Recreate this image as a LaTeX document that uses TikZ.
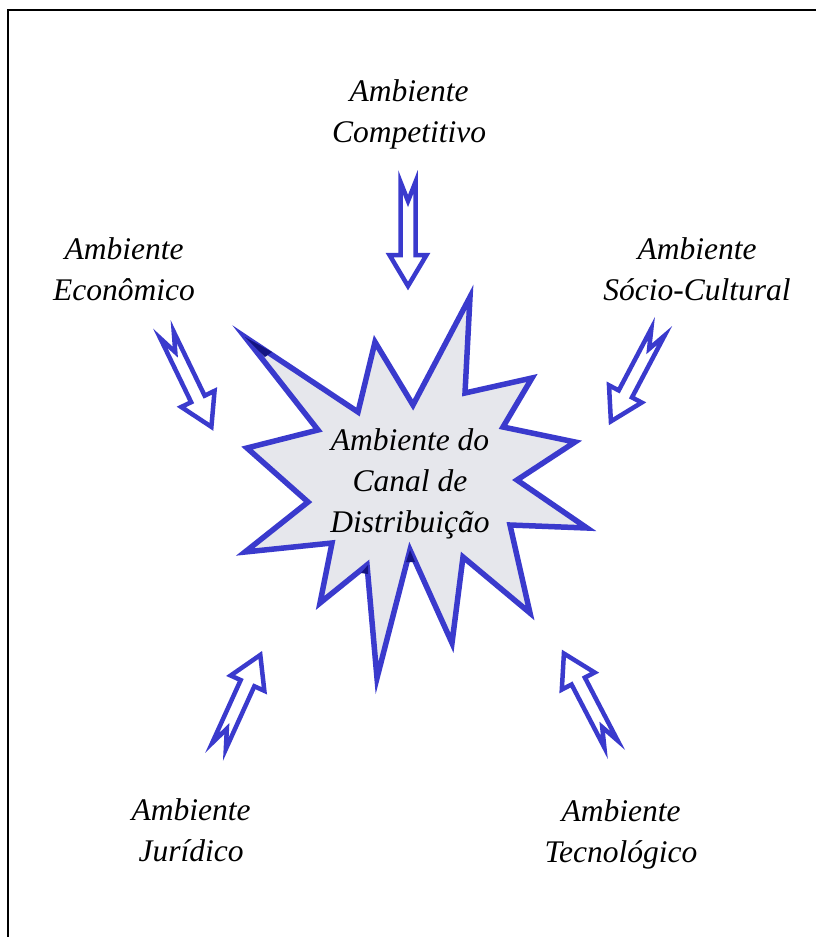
\documentclass[tikz,border=0pt]{standalone}
\usepackage{fontspec}
\setmainfont{Liberation Serif}
\definecolor{starblue}{RGB}{58,58,205}
\definecolor{handleblue}{RGB}{20,20,130}
\definecolor{burstfill}{RGB}{230,231,236}
\begin{document}
\begin{tikzpicture}[x=1pt,y=-1pt,
  lbl/.style={font=\fontsize{31.5}{41}\selectfont\itshape, align=center, inner sep=0pt},
  burst/.style={draw=starblue, line width=5.5pt, fill=burstfill, line join=miter},
  hollow/.style={draw=starblue, line width=4.5pt, fill=white, line join=miter},
  blockarrow/.pic={
    \draw[hollow] (0,-7.5) -- (#1-31,-7.5) -- (#1-31,-18.5) -- (#1,0)
      -- (#1-31,18.5) -- (#1-31,7.5) -- (0,7.5) -- (19,0) -- cycle;
  }]
\useasboundingbox (0,0) rectangle (816,937);

% frame: top and left rules only
\draw[line width=2pt] (8,937) -- (8,10) -- (816,10);

% central burst
\draw[burst] (245,337) -- (358,412) -- (375,342) -- (413,405) -- (470,297)
  -- (465,393) -- (532,378) -- (503,427) -- (575,442) -- (517,480)
  -- (587,528) -- (510,525) -- (530,613) -- (463,557) -- (452,643)
  -- (410,550) -- (377,678) -- (367,565) -- (320,603) -- (332,543)
  -- (245,552) -- (308,502) -- (247,448) -- (318,430) -- cycle;
% small dark handles on the burst
\fill[handleblue] (245,337) -- (272,352) -- (265,357) -- cycle;
\fill[handleblue] (410,550) -- (415,562) -- (406,562) -- cycle;
\fill[handleblue] (368,565) -- (368,574) -- (361,573) -- cycle;

\node[lbl] (centre) at (410,484) {Ambiente do\\Canal de\\Distribuição};

% surrounding environments
\node[lbl] (comp)  at (409,114) {Ambiente\\Competitivo};
\node[lbl] (econ)  at (124,269) {Ambiente\\Econômico};
\node[lbl] (socio) at (697,269) {Ambiente\\Sócio-Cultural};
\node[lbl] (jur)   at (191,830) {Ambiente\\Jurídico};
\node[lbl] (tec)   at (621,834) {Ambiente\\Tecnológico};

% arrow tails
\coordinate (a1) at (408,182);
\coordinate (a2) at (167,335);
\coordinate (a3) at (658,332);
\coordinate (a4) at (219,746);
\coordinate (a5) at (611,744);

\pic[rotate=-90]    at (a1) {blockarrow=104};
\pic[rotate=-64.2]  at (a2) {blockarrow=102};
\pic[rotate=-117.8] at (a3) {blockarrow=101};
\pic[rotate=65.6]   at (a4) {blockarrow=100};
\pic[rotate=117.5]  at (a5) {blockarrow=102};
\end{tikzpicture}
\end{document}
